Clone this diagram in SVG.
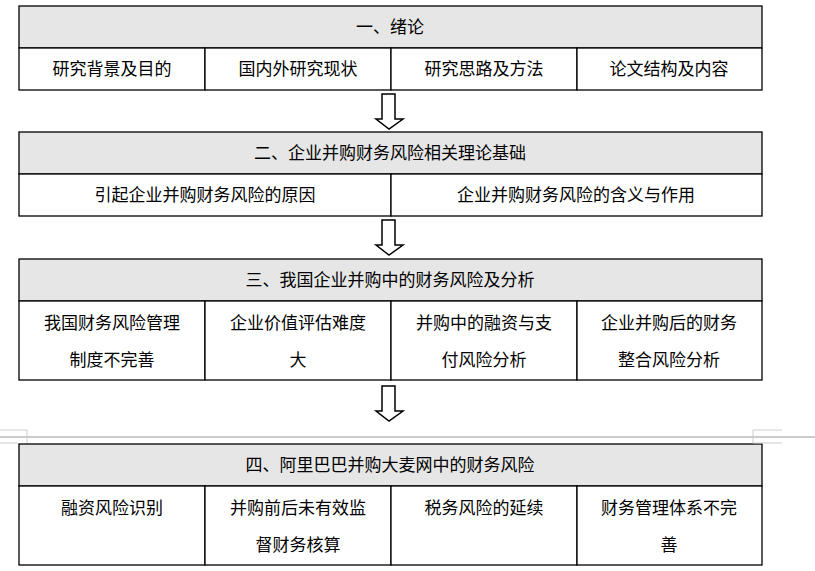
<svg xmlns="http://www.w3.org/2000/svg" width="815" height="571" viewBox="0 0 815 571">
<style>
.h{fill:#e6e6e6;stroke:#000;stroke-width:1.3}
.c{fill:#fff;stroke:#000;stroke-width:1.3}
text{font-family:"Noto Sans CJK SC","Liberation Serif",serif;font-size:17px;text-anchor:middle;fill:#000}
.pb{stroke:#ccc;fill:none}
.ar{fill:#fff;stroke:#000;stroke-width:1.5}
</style>
<rect width="815" height="571" fill="#fff"/>
<g id="s1">
<rect class="h" x="19" y="6" width="743" height="42"/><text x="390" y="33">一、绪论</text>
<rect class="c" x="19" y="48" width="186" height="42"/><text x="112" y="75">研究背景及目的</text>
<rect class="c" x="205" y="48" width="186" height="42"/><text x="298" y="75">国内外研究现状</text>
<rect class="c" x="391" y="48" width="186" height="42"/><text x="484" y="75">研究思路及方法</text>
<rect class="c" x="577" y="48" width="185" height="42"/><text x="669" y="75">论文结构及内容</text>
</g>
<g id="s2">
<rect class="h" x="19" y="132" width="743" height="42"/><text x="390" y="159">二、企业并购财务风险相关理论基础</text>
<rect class="c" x="19" y="174" width="372" height="42"/><text x="205" y="201">引起企业并购财务风险的原因</text>
<rect class="c" x="391" y="174" width="371" height="42"/><text x="576" y="201">企业并购财务风险的含义与作用</text>
</g>
<g id="s3">
<rect class="h" x="19" y="259" width="743" height="42"/><text x="390" y="286">三、我国企业并购中的财务风险及分析</text>
<rect class="c" x="19" y="301" width="186" height="79"/><text x="112" y="329">我国财务风险管理</text><text x="112" y="366">制度不完善</text>
<rect class="c" x="205" y="301" width="186" height="79"/><text x="298" y="329">企业价值评估难度</text><text x="298" y="366">大</text>
<rect class="c" x="391" y="301" width="186" height="79"/><text x="484" y="329">并购中的融资与支</text><text x="484" y="366">付风险分析</text>
<rect class="c" x="577" y="301" width="185" height="79"/><text x="669" y="329">企业并购后的财务</text><text x="669" y="366">整合风险分析</text>
</g>
<g id="s4">
<rect class="h" x="19" y="444" width="743" height="42"/><text x="390" y="471">四、阿里巴巴并购大麦网中的财务风险</text>
<rect class="c" x="19" y="486" width="186" height="79"/><text x="112" y="514">融资风险识别</text>
<rect class="c" x="205" y="486" width="186" height="79"/><text x="298" y="514">并购前后未有效监</text><text x="298" y="551">督财务核算</text>
<rect class="c" x="391" y="486" width="186" height="79"/><text x="484" y="514">税务风险的延续</text>
<rect class="c" x="577" y="486" width="185" height="79"/><text x="669" y="514">财务管理体系不完</text><text x="669" y="551">善</text>
</g>
<g id="connectors">
<path class="ar" d="M382,94 H395 V119 H403 L389,129 L376,119 H382 Z"/>
<path class="ar" d="M382,220 H395 V245 H403 L389,255 L376,245 H382 Z"/>
<path class="ar" d="M382,386 H395 V411 H403 L389,421 L376,411 H382 Z"/>
</g>
<g id="pagebreak">
<line class="pb" x1="0" y1="437" x2="815" y2="437" stroke-width="2"/>
<path class="pb" d="M0,430 H27 V443 M0,443 H18 M782,430 H753 V443 M753,443 H782"/>
</g>
</svg>
